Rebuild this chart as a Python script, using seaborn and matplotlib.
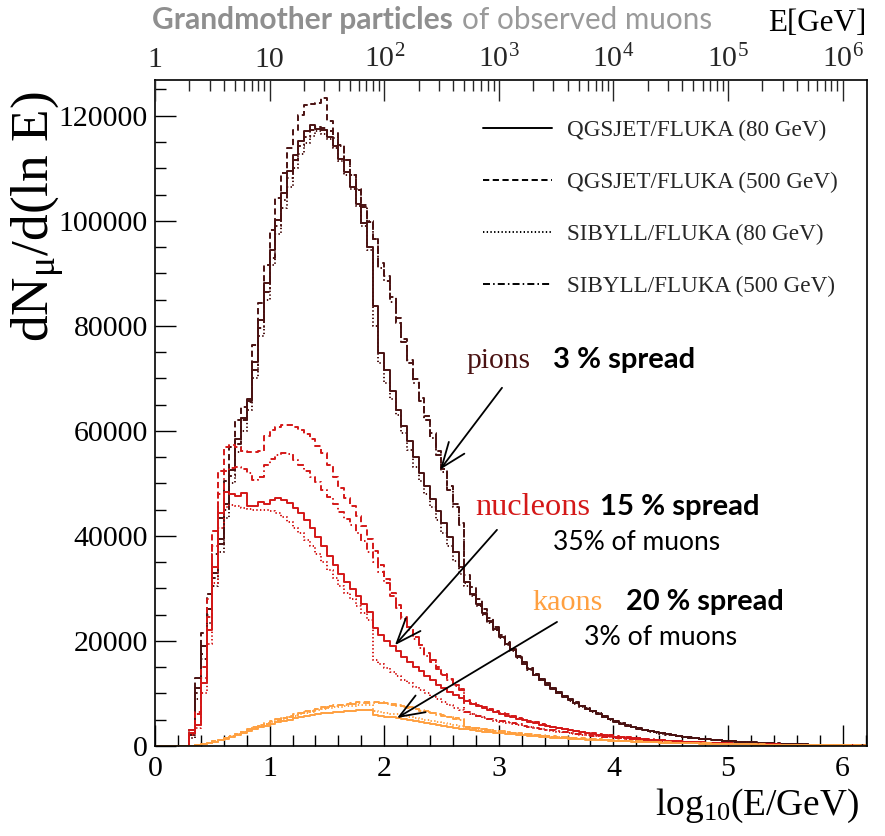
import numpy as np
import pandas as pd
import matplotlib
matplotlib.use("Agg")
import matplotlib.pyplot as plt
import seaborn as sns
from matplotlib.lines import Line2D
from matplotlib.ticker import MultipleLocator, FixedLocator, FuncFormatter, NullFormatter

# ------------------------------------------------------------------
# Data: dN_mu/d(ln E) in thousands, histogram bins of 0.05 in log10(E/GeV)
# starting at log10(E/GeV) = 0.00
# ------------------------------------------------------------------
BIN_WIDTH = 0.05

pion_qgsjet_80 = [
    0, 0, 0, 0, 0, 0, 2.5, 11, 19, 26,
    33, 39.5, 46, 52.5, 58.5, 62.5, 66, 73.2, 81.2, 88.1,
    94.5, 100.2, 105.3, 109.4, 112.6, 115.1, 117.0, 118.3, 117.5, 117.3,
    116.0, 114.2, 111.8, 109.3, 106.5, 103.2, 99.5, 95.0, 83.7, 74.8,
    71.5, 67.5, 64.0, 61.0, 58.0, 55.0, 52.0, 49.5, 47.0, 44.8,
    42.5, 39.8, 37.0, 34.0, 31.2, 29.0, 27.0, 25.3, 23.8, 22.2,
    20.8, 19.5, 18.2, 16.9, 15.7, 14.6, 13.6, 12.6, 11.7, 10.9,
    10.1, 9.4, 8.7, 8.1, 7.6, 7.1, 6.6, 6.1, 5.6, 5.1,
    4.6, 4.2, 3.9, 3.6, 3.3, 3.05, 2.8, 2.6, 2.4, 2.2,
    2.05, 1.9, 1.75, 1.6, 1.5, 1.38, 1.27, 1.17, 1.08, 1.0,
    0.92, 0.85, 0.78, 0.72, 0.66, 0.6, 0.55, 0.5, 0.46, 0.42,
    0.38, 0.35, 0.32, 0.29, 0.26, 0.24, 0.22, 0.2, 0.18, 0.16,
    0.15, 0.13, 0.12, 0.11, 0.1,
]
pion_qgsjet_500 = [
    0, 0, 0, 0, 0, 0, 3, 13, 21.5, 29,
    36.5, 43.5, 50.5, 57, 62, 64.5, 65.6, 76.4, 84.3, 91.6,
    98.3, 104.3, 109.1, 113.9, 117.3, 120.2, 122.1, 122.3, 122.5, 123.4,
    119.0, 116.7, 114.5, 111.6, 108.8, 105.8, 102.7, 99.8, 96.5, 92.0,
    89.5, 85.5, 81.5, 77.5, 73.5, 69.8, 66.3, 62.8, 59.5, 56.2,
    52.8, 49.5, 46.0, 42.5, 32.5, 30.2, 28.0, 26.1, 24.3, 22.7,
    21.2, 19.8, 18.5, 17.2, 16.0, 14.9, 13.8, 12.8, 11.9, 11.1,
    10.3, 9.6, 8.9, 8.3, 7.7, 7.2, 6.7, 6.2, 5.7, 5.2,
    4.7, 4.3, 4.0, 3.7, 3.4, 3.1, 2.85, 2.65, 2.45, 2.25,
    2.1, 1.95, 1.8, 1.65, 1.52, 1.4, 1.29, 1.19, 1.1, 1.02,
    0.94, 0.87, 0.8, 0.74, 0.68, 0.62, 0.57, 0.52, 0.48, 0.44,
    0.4, 0.36, 0.33, 0.3, 0.27, 0.25, 0.23, 0.21, 0.19, 0.17,
    0.16, 0.14, 0.13, 0.12, 0.11,
]
pion_sibyll_80 = [
    0, 0, 0, 0, 0, 0, 1.5, 9, 16.5, 23.5,
    30.5, 37, 43.5, 50, 56, 60, 64, 70, 78, 85,
    91.5, 97.5, 102.5, 106.5, 110, 112.8, 114.8, 116.2, 117.0, 116.6,
    115.6, 113.8, 111.4, 108.8, 106.0, 102.8, 99.0, 94.5, 80.0, 72.9,
    69.1, 66.0, 63.0, 59.6, 56.4, 53.2, 50.5, 48.0, 45.5, 43.0,
    40.5, 38.0, 35.3, 32.8, 30.5, 28.5, 26.6, 25.0, 23.5, 22.0,
    20.6, 19.3, 18.0, 16.8, 15.6, 14.5, 13.5, 12.5, 11.6, 10.8,
    10.0, 9.3, 8.6, 8.0, 7.5, 7.0, 6.5, 6.0, 5.5, 5.0,
    4.55, 4.15, 3.85, 3.55, 3.25, 3.0, 2.75, 2.55, 2.35, 2.15,
    2.0, 1.85, 1.7, 1.57, 1.46, 1.35, 1.24, 1.14, 1.05, 0.97,
    0.9, 0.83, 0.76, 0.7, 0.64, 0.59, 0.54, 0.49, 0.45, 0.41,
    0.37, 0.34, 0.31, 0.28, 0.25, 0.23, 0.21, 0.19, 0.17, 0.16,
    0.14, 0.13, 0.12, 0.11, 0.1,
]
pion_sibyll_500 = [
    0, 0, 0, 0, 0, 0, 2, 10, 17.5, 25,
    32, 38.5, 45, 51.5, 57.5, 62, 65.5, 71.5, 79.5, 86.5,
    93, 99, 104, 108.2, 111.5, 114.2, 116.0, 117.2, 117.8, 117.6,
    117.0, 115.8, 114.2, 111.5, 108.8, 106.0, 103.0, 100.0, 96.5, 91.0,
    88.5, 84.5, 80.5, 77.0, 73.0, 69.2, 65.6, 62.0, 58.6, 55.4,
    52.2, 48.8, 45.5, 42.0, 31.0, 28.8, 26.8, 25.1, 23.6, 22.1,
    21.0, 19.7, 18.4, 17.1, 15.9, 14.8, 13.7, 12.7, 11.8, 11.0,
    10.2, 9.5, 8.8, 8.2, 7.7, 7.2, 6.7, 6.2, 5.7, 5.2,
    4.7, 4.3, 3.95, 3.65, 3.35, 3.1, 2.85, 2.62, 2.42, 2.22,
    2.07, 1.92, 1.77, 1.62, 1.5, 1.39, 1.28, 1.18, 1.09, 1.01,
    0.93, 0.86, 0.79, 0.73, 0.67, 0.61, 0.56, 0.51, 0.47, 0.43,
    0.39, 0.35, 0.32, 0.29, 0.26, 0.24, 0.22, 0.2, 0.18, 0.17,
    0.15, 0.14, 0.13, 0.12, 0.11,
]

nucleon_qgsjet_80 = [
    0, 0, 0, 0, 0, 0, 2.5, 4, 12, 22,
    34, 44.4, 48.4, 48.0, 47.6, 48.2, 45.6, 45.6, 46.5, 46.0,
    46.8, 47.2, 46.8, 46.2, 45.4, 44.3, 43.0, 41.5, 39.8, 38.0,
    36.2, 34.5, 32.8, 31.3, 29.9, 28.5, 27.1, 25.5, 22.5, 21.2,
    20.0, 19.0, 18.0, 17.0, 16.0, 15.1, 14.2, 13.3, 12.5, 11.7,
    11.0, 10.3, 9.7, 9.1, 8.5, 8.0, 7.6, 7.2, 6.8, 6.4,
    6.1, 5.8, 5.5, 5.2, 4.9, 4.6, 4.3, 4.05, 3.8, 3.6,
    3.4, 3.2, 3.0, 2.8, 2.6, 2.45, 2.3, 2.15, 2.0, 1.9,
    1.8, 1.7, 1.6, 1.5, 1.4, 1.3, 1.22, 1.14, 1.06, 0.99,
    0.92, 0.86, 0.8, 0.75, 0.7, 0.65, 0.61, 0.57, 0.53, 0.5,
    0.47, 0.44, 0.41, 0.38, 0.36, 0.33, 0.31, 0.29, 0.27, 0.25,
    0.23, 0.21, 0.2, 0.18, 0.17, 0.16, 0.15, 0.14, 0.13, 0.12,
    0.11, 0.1, 0.09, 0.08, 0.08,
]
nucleon_qgsjet_500 = [
    0, 0, 0, 0, 0, 0, 3.0, 6.5, 15, 28,
    41, 52.3, 57.0, 57.3, 57.0, 56.2, 56.0, 56.0, 56.2, 59.0,
    60.2, 60.8, 61.2, 61.2, 60.8, 60.2, 59.4, 58.4, 57.2, 55.8,
    53.5, 51.2, 49.1, 47.3, 45.6, 43.7, 41.8, 39.5, 37.2, 34.5,
    31.8, 29.2, 26.8, 24.6, 22.6, 20.8, 19.2, 17.7, 16.3, 15.0,
    13.8, 12.7, 11.7, 10.8, 8.7, 8.2, 7.8, 7.4, 7.0, 6.6,
    6.3, 6.0, 5.7, 5.4, 5.1, 4.8, 4.5, 4.2, 3.95, 3.7,
    3.5, 3.3, 3.1, 2.9, 2.7, 2.55, 2.4, 2.25, 2.1, 2.0,
    1.88, 1.77, 1.66, 1.56, 1.46, 1.36, 1.27, 1.19, 1.11, 1.03,
    0.96, 0.9, 0.84, 0.78, 0.73, 0.68, 0.64, 0.6, 0.56, 0.52,
    0.49, 0.46, 0.43, 0.4, 0.37, 0.35, 0.33, 0.31, 0.29, 0.27,
    0.25, 0.23, 0.21, 0.2, 0.18, 0.17, 0.16, 0.15, 0.14, 0.13,
    0.12, 0.11, 0.1, 0.09, 0.08,
]
nucleon_sibyll_80 = [
    0, 0, 0, 0, 0, 0, 2.0, 3.5, 10, 19.5,
    31, 41.5, 45.5, 45.8, 45.6, 45.3, 45.2, 45.0, 45.0, 44.9,
    44.7, 44.3, 43.6, 42.6, 41.6, 40.5, 39.3, 38.0, 36.5, 35.0,
    33.5, 32.0, 30.5, 29.2, 27.9, 26.6, 25.3, 24.0, 16.4, 15.6,
    14.8, 14.0, 13.3, 12.6, 11.9, 11.2, 10.6, 10.0, 9.4, 8.9,
    8.3, 7.8, 7.3, 6.8, 6.4, 6.0, 5.7, 5.4, 5.1, 4.85,
    4.6, 4.4, 4.2, 4.0, 3.8, 3.6, 3.4, 3.2, 3.05, 2.9,
    2.75, 2.6, 2.45, 2.3, 2.17, 2.05, 1.93, 1.82, 1.72, 1.62,
    1.53, 1.44, 1.36, 1.28, 1.2, 1.13, 1.06, 1.0, 0.94, 0.88,
    0.83, 0.78, 0.73, 0.68, 0.64, 0.6, 0.56, 0.53, 0.5, 0.47,
    0.44, 0.41, 0.38, 0.36, 0.34, 0.32, 0.3, 0.28, 0.26, 0.24,
    0.22, 0.21, 0.2, 0.18, 0.17, 0.16, 0.15, 0.14, 0.13, 0.12,
    0.11, 0.1, 0.09, 0.08, 0.08,
]
nucleon_sibyll_500 = [
    0, 0, 0, 0, 0, 0, 2.5, 6.0, 13.0, 24.5,
    38.0, 48.0, 52.3, 53.0, 53.2, 52.8, 52.0, 50.7, 51.2, 53.5,
    54.6, 55.4, 55.8, 55.5, 54.5, 53.5, 52.4, 51.3, 50.2, 48.8,
    47.4, 46.0, 44.6, 43.3, 42.0, 40.5, 39.0, 37.0, 35.0, 33.2,
    31.0, 28.6, 26.3, 24.1, 22.1, 20.3, 18.7, 17.2, 15.9, 14.6,
    13.5, 12.5, 11.5, 10.6, 6.5, 6.1, 5.8, 5.5, 5.2, 4.95,
    4.7, 4.5, 4.3, 4.1, 3.9, 3.7, 3.5, 3.3, 3.12, 2.96,
    2.8, 2.65, 2.5, 2.35, 2.22, 2.1, 1.98, 1.86, 1.75, 1.65,
    1.56, 1.47, 1.38, 1.3, 1.22, 1.15, 1.08, 1.02, 0.96, 0.9,
    0.85, 0.8, 0.75, 0.7, 0.66, 0.62, 0.58, 0.54, 0.51, 0.48,
    0.45, 0.42, 0.39, 0.37, 0.35, 0.33, 0.31, 0.29, 0.27, 0.25,
    0.23, 0.22, 0.2, 0.19, 0.18, 0.17, 0.16, 0.15, 0.14, 0.13,
    0.12, 0.11, 0.1, 0.09, 0.08,
]

kaon_qgsjet_80 = [
    0, 0, 0, 0, 0, 0, 0, 0.1, 0.3, 0.55,
    0.8, 1.1, 1.4, 1.75, 2.1, 2.5, 2.9, 3.3, 3.6, 3.9,
    4.2, 4.5, 4.75, 5.0, 5.25, 5.5, 5.7, 5.9, 6.05, 6.2,
    6.35, 6.45, 6.55, 6.65, 6.75, 6.8, 6.85, 6.8, 5.9, 5.75,
    5.6, 5.45, 5.3, 5.1, 4.9, 4.7, 4.5, 4.3, 4.1, 3.95,
    3.8, 3.6, 3.45, 3.3, 3.15, 3.0, 2.85, 2.7, 2.6, 2.5,
    2.4, 2.3, 2.2, 2.1, 2.0, 1.9, 1.82, 1.74, 1.66, 1.58,
    1.5, 1.43, 1.37, 1.31, 1.25, 1.2, 1.15, 1.1, 1.05, 1.0,
    0.96, 0.92, 0.88, 0.84, 0.8, 0.76, 0.72, 0.69, 0.66, 0.63,
    0.6, 0.57, 0.54, 0.51, 0.48, 0.46, 0.44, 0.42, 0.4, 0.38,
    0.36, 0.34, 0.32, 0.3, 0.28, 0.26, 0.25, 0.24, 0.22, 0.21,
    0.2, 0.19, 0.18, 0.17, 0.16, 0.15, 0.14, 0.13, 0.12, 0.11,
    0.1, 0.09, 0.09, 0.08, 0.08,
]
kaon_qgsjet_500 = [
    0, 0, 0, 0, 0, 0, 0, 0.1, 0.3, 0.6,
    0.9, 1.2, 1.55, 1.9, 2.3, 2.75, 3.2, 3.6, 4.0, 4.35,
    4.7, 5.05, 5.4, 5.7, 6.0, 6.3, 6.6, 6.85, 7.1, 7.35,
    7.55, 7.75, 7.9, 8.05, 8.2, 8.3, 8.4, 8.45, 8.4, 8.3,
    8.15, 8.0, 7.8, 7.6, 7.35, 7.1, 6.85, 6.6, 6.35, 6.1,
    5.85, 5.6, 5.35, 5.1, 3.7, 3.5, 3.35, 3.2, 3.05, 2.9,
    2.78, 2.65, 2.53, 2.42, 2.31, 2.2, 2.1, 2.0, 1.91, 1.82,
    1.73, 1.65, 1.57, 1.5, 1.43, 1.36, 1.3, 1.24, 1.18, 1.12,
    1.07, 1.02, 0.97, 0.92, 0.88, 0.84, 0.8, 0.76, 0.72, 0.69,
    0.66, 0.63, 0.6, 0.57, 0.54, 0.51, 0.49, 0.47, 0.45, 0.43,
    0.41, 0.39, 0.37, 0.35, 0.33, 0.31, 0.29, 0.27, 0.26, 0.25,
    0.23, 0.22, 0.21, 0.2, 0.19, 0.18, 0.17, 0.16, 0.15, 0.14,
    0.13, 0.12, 0.11, 0.1, 0.09,
]
kaon_sibyll_80 = [
    0, 0, 0, 0, 0, 0, 0, 0.1, 0.3, 0.55,
    0.85, 1.15, 1.5, 1.85, 2.25, 2.65, 3.05, 3.45, 3.8, 4.15,
    4.5, 4.85, 5.15, 5.45, 5.75, 6.05, 6.3, 6.55, 6.8, 7.0,
    7.2, 7.35, 7.5, 7.6, 7.7, 7.8, 7.85, 7.85, 6.6, 6.45,
    6.3, 6.15, 6.0, 5.8, 5.6, 5.4, 5.2, 5.0, 4.8, 4.6,
    4.4, 4.2, 4.0, 3.8, 3.6, 3.45, 3.3, 3.15, 3.0, 2.85,
    2.72, 2.6, 2.48, 2.37, 2.26, 2.15, 2.05, 1.95, 1.86, 1.77,
    1.68, 1.6, 1.52, 1.45, 1.38, 1.32, 1.26, 1.2, 1.14, 1.09,
    1.04, 0.99, 0.94, 0.9, 0.86, 0.82, 0.78, 0.74, 0.7, 0.67,
    0.64, 0.61, 0.58, 0.55, 0.52, 0.5, 0.48, 0.46, 0.44, 0.42,
    0.4, 0.38, 0.36, 0.34, 0.32, 0.3, 0.28, 0.26, 0.25, 0.24,
    0.22, 0.21, 0.2, 0.19, 0.18, 0.17, 0.16, 0.15, 0.14, 0.13,
    0.12, 0.11, 0.1, 0.09, 0.09,
]
kaon_sibyll_500 = [
    0, 0, 0, 0, 0, 0, 0, 0.1, 0.3, 0.6,
    0.9, 1.2, 1.55, 1.9, 2.3, 2.7, 3.1, 3.5, 3.9, 4.25,
    4.6, 4.95, 5.3, 5.6, 5.9, 6.2, 6.45, 6.7, 6.95, 7.2,
    7.4, 7.6, 7.75, 7.9, 8.0, 8.1, 8.2, 8.25, 8.2, 8.1,
    7.95, 7.8, 7.6, 7.4, 7.2, 6.95, 6.7, 6.45, 6.2, 5.95,
    5.7, 5.45, 5.2, 4.95, 3.6, 3.42, 3.26, 3.1, 2.96, 2.82,
    2.7, 2.58, 2.46, 2.35, 2.24, 2.14, 2.04, 1.94, 1.85, 1.76,
    1.68, 1.6, 1.52, 1.45, 1.38, 1.32, 1.26, 1.2, 1.14, 1.09,
    1.04, 0.99, 0.94, 0.9, 0.86, 0.82, 0.78, 0.74, 0.71, 0.68,
    0.65, 0.62, 0.59, 0.56, 0.53, 0.5, 0.48, 0.46, 0.44, 0.42,
    0.4, 0.38, 0.36, 0.34, 0.32, 0.3, 0.28, 0.27, 0.26, 0.25,
    0.23, 0.22, 0.21, 0.2, 0.19, 0.18, 0.17, 0.16, 0.15, 0.14,
    0.13, 0.12, 0.11, 0.1, 0.09,
]

particles = ["pions", "nucleons", "kaons"]
models = ["QGSJET/FLUKA (80 GeV)", "QGSJET/FLUKA (500 GeV)",
          "SIBYLL/FLUKA (80 GeV)", "SIBYLL/FLUKA (500 GeV)"]
series = {
    ("pions", models[0]): pion_qgsjet_80,
    ("pions", models[1]): pion_qgsjet_500,
    ("pions", models[2]): pion_sibyll_80,
    ("pions", models[3]): pion_sibyll_500,
    ("nucleons", models[0]): nucleon_qgsjet_80,
    ("nucleons", models[1]): nucleon_qgsjet_500,
    ("nucleons", models[2]): nucleon_sibyll_80,
    ("nucleons", models[3]): nucleon_sibyll_500,
    ("kaons", models[0]): kaon_qgsjet_80,
    ("kaons", models[1]): kaon_qgsjet_500,
    ("kaons", models[2]): kaon_sibyll_80,
    ("kaons", models[3]): kaon_sibyll_500,
}

colors = {"pions": "#4a1212", "nucleons": "#d41818", "kaons": "#ffa040"}
dash_map = {models[0]: "", models[1]: (3.2, 1.8),
            models[2]: (0.7, 1.2), models[3]: (3.6, 1.6, 0.8, 1.6)}

# long table (step histogram: left bin edge + closing right edge)
rows = []
for (particle, model), vals in series.items():
    vals = np.asarray(vals, dtype=float) * 1000.0
    edges = np.arange(len(vals) + 1) * BIN_WIDTH
    yv = np.append(vals, vals[-1])
    for xe, ye in zip(edges, yv):
        rows.append((particle, model, xe, ye))
df = pd.DataFrame(rows, columns=["particle", "model", "log10E", "dN"])

# ------------------------------------------------------------------
sns.set_style("ticks")
plt.rcParams["font.family"] = ["Liberation Serif", "DejaVu Serif"]
plt.rcParams["mathtext.fontset"] = "custom"
plt.rcParams["mathtext.rm"] = "Liberation Serif"
plt.rcParams["mathtext.it"] = "Liberation Serif:italic"
plt.rcParams["mathtext.bf"] = "Liberation Serif:bold"

W, H = 885, 836
fig = plt.figure(figsize=(W / 100, H / 100), dpi=100)
ax = fig.add_axes([155 / W, 1 - 746 / H, (867 - 155) / W, (746 - 80) / H])

sns.lineplot(data=df, x="log10E", y="dN", hue="particle", style="model",
             hue_order=particles, style_order=models, palette=colors,
             dashes=dash_map, drawstyle="steps-post", estimator=None,
             errorbar=None, sort=False, legend=False, lw=1.4, ax=ax)

ax.set_xlim(0, 6.213)
ax.set_ylim(0, 126800)
ax.set_xlabel("")
ax.set_ylabel("")
ax.xaxis.set_major_locator(MultipleLocator(1))
ax.xaxis.set_minor_locator(MultipleLocator(0.2))
ax.yaxis.set_major_locator(MultipleLocator(20000))
ax.yaxis.set_minor_locator(MultipleLocator(5000))
ax.yaxis.set_major_formatter(FuncFormatter(lambda v, p: f"{v:.0f}"))
ax.xaxis.set_major_formatter(FuncFormatter(lambda v, p: f"{v:.0f}"))
ax.tick_params(which="both", direction="in", top=False, right=False,
               labelsize=21.5, width=1.0, colors="black")
ax.tick_params(which="major", length=15)
ax.tick_params(which="minor", length=8)
ax.tick_params(axis="y", pad=5)
ax.tick_params(axis="x", pad=7)
for s in ax.spines.values():
    s.set_color("black")
    s.set_linewidth(1.2)
    s.set_visible(True)

# top axis: E in GeV (log)
ax2 = ax.twiny()
ax2.set_xlim(ax.get_xlim())
top_labels = ["1", "10", "$10^{2}$", "$10^{3}$", "$10^{4}$", "$10^{5}$", "$10^{6}$"]
ax2.xaxis.set_major_locator(FixedLocator(range(7)))
ax2.set_xticklabels(top_labels)
minor_pos = [n + np.log10(k) for n in range(7) for k in range(2, 10)
             if n + np.log10(k) < 6.213]
ax2.xaxis.set_minor_locator(FixedLocator(minor_pos))
ax2.xaxis.set_minor_formatter(NullFormatter())
ax2.tick_params(which="both", direction="in", labelsize=21.5, width=1.0, pad=5)
ax2.tick_params(which="major", length=15)
ax2.tick_params(which="minor", length=8)
for s in ax2.spines.values():
    s.set_visible(False)

# legend
handles = [Line2D([], [], color="black", lw=1.4, linestyle="-")]
for m in models[1:]:
    handles.append(Line2D([], [], color="black", lw=1.4, linestyle=(0, dash_map[m])))
ax.legend(handles=handles, labels=models, loc="upper left",
          bbox_to_anchor=(482.7 / W, 1 - 120 / H), bbox_transform=fig.transFigure,
          frameon=False, fontsize=16.7, handlelength=2.97, handletextpad=0.65,
          labelspacing=1.33, borderpad=0, borderaxespad=0)

renderer = fig.canvas.get_renderer()


def fit_text(s, x0, x1, y_base, **kw):
    t = fig.text(x0 / W, 1 - y_base / H, s, fontsize=20, ha="left",
                 va="baseline", **kw)
    w = t.get_window_extent(renderer).width
    t.set_fontsize(20 * (x1 - x0) / w)
    return t


# title
fit_text("Grandmother particles", 152, 452, 29, family="Lato",
         weight="bold", color="#8f8f8f")
fit_text("of observed muons", 462, 712, 29, family="Lato", color="#9a9a9a")
fit_text("E[GeV]", 768, 866, 31, color="black")

# axis titles
fit_text("log$_{10}$(E/GeV)", 655, 860, 815, color="black")
yl = fig.text(0, 0, "dN$_{\\mathrm{μ}}$/d(ln E)", fontsize=20, color="black")
wl = yl.get_window_extent(renderer).width
yl.set_fontsize(20 * 252 / wl)
yl.set_rotation(90)
yl.set_ha("center")
yl.set_va("center")
yl.set_position((38 / W, 1 - 217 / H))

# annotations
fit_text("pions", 466, 530, 368, color="#4a1212")
fit_text("3 % spread", 553, 695, 368, family="Lato", weight="bold", color="black")
fit_text("nucleons", 475, 590, 515, color="#d41818")
fit_text("15 % spread", 600, 760, 515, family="Lato", weight="bold", color="black")
fit_text("35% of muons", 553, 720, 550, family="Lato", color="black")
fit_text("kaons", 532, 602, 610, color="#ffa040")
fit_text("20 % spread", 626, 784, 610, family="Lato", weight="bold", color="black")
fit_text("3% of muons", 584, 737, 645, family="Lato", color="black")

arrow_kw = dict(arrowstyle="->,head_length=0.9,head_width=0.35", lw=1.3,
                color="black", shrinkA=0, shrinkB=0, mutation_scale=20)
ax.annotate("", xy=(2.487, 52600), xytext=(3.028, 68200), arrowprops=arrow_kw)
ax.annotate("", xy=(2.094, 19200), xytext=(2.984, 41150), arrowprops=arrow_kw)
ax.annotate("", xy=(2.112, 5330), xytext=(3.508, 23620), arrowprops=arrow_kw)

fig.savefig("out.png", dpi=100)
